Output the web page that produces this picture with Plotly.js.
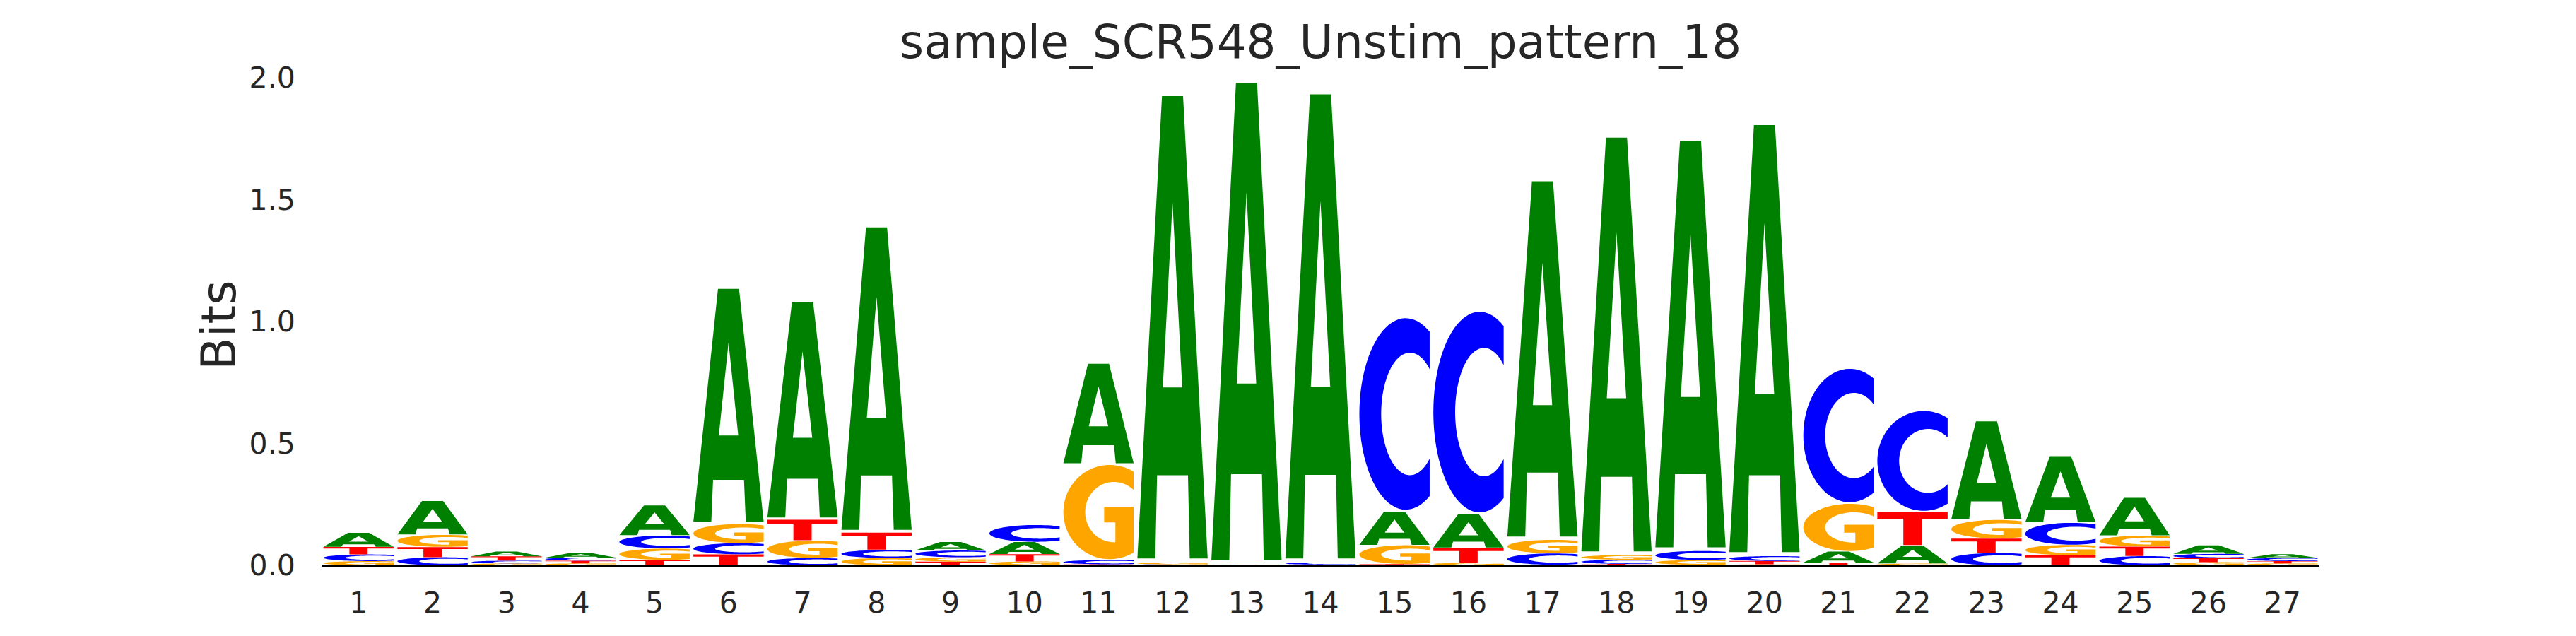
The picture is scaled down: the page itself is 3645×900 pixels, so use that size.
<!DOCTYPE html>
<html>
<head>
<meta charset="utf-8">
<script src="https://cdn.plot.ly/plotly-3.0.1.min.js"></script>
<style>html,body{margin:0;padding:0;background:#ffffff;}</style>
</head>
<body>
<div id="chart" style="width:3645px;height:900px;"></div>
<script>
// ---- data: information (bits) per base at each position ----
const positions = [1,2,3,4,5,6,7,8,9,10,11,12,13,14,15,16,17,18,19,20,21,22,23,24,25,26,27];
const tickLabels = positions.map(String);
const bitsA = [0.0583,0.1394,0.0193,0.0189,0.124,0.973,0.901,1.263,0.035,0.050,0.4155,1.931,1.995,1.938,0.138,0.138,1.484,1.728,1.697,1.784,0.046,0.075,0.407,0.275,0.156,0.0355,0.0156];
const bitsC = [0.0275,0.0333,0.0116,0.0125,0.0535,0.046,0.030,0.0335,0.028,0.070,0.0174,0.003,0.001,0.008,0.800,0.838,0.047,0.017,0.037,0.020,0.557,0.417,0.051,0.091,0.038,0.0175,0.0126];
const bitsG = [0.0174,0.0501,0.0077,0.0082,0.0468,0.079,0.072,0.030,0.018,0.016,0.3936,0.007,0.001,0.002,0.078,0.0104,0.056,0.019,0.020,0.004,0.197,0.007,0.077,0.043,0.045,0.013,0.008];
const bitsT = [0.0304,0.042,0.0178,0.0111,0.0222,0.045,0.086,0.071,0.015,0.030,0.0043,0.001,0.001,0.001,0.005,0.0612,0.002,0.006,0.002,0.014,0.011,0.138,0.059,0.041,0.039,0.0165,0.0096];
const bases = ['A','C','G','T'];
const baseColors = {A:'#008000', C:'#0000ff', G:'#ffa500', T:'#ff0000'};
const yTicks = [0, 0.5, 1.0, 1.5, 2.0];
const titleText = 'sample_SCR548_Unstim_pattern_18';
const yTitleText = 'Bits';

// ---- glyph outlines in a unit box ----
function ellArc(cx, cy, rx, ry, a0, a1, n) {
  const pts = [];
  for (let i = 0; i <= n; i++) {
    const t = (a0 + (a1 - a0) * i / n) * Math.PI / 180;
    pts.push([Math.min(1, cx + rx * Math.cos(t)), cy + ry * Math.sin(t)]);
  }
  return pts;
}
const OCX = 0.66, ORX = 0.66, OCY = 0.5, ORY = 0.5;
const ICX = 0.72, IRX = 0.41, ICY = 0.5, IRY = 0.32;
const oA = Math.acos((1 - OCX) / ORX) * 180 / Math.PI;
const iA = Math.acos((1 - ICX) / IRX) * 180 / Math.PI;
function glyph(b) {
  if (b === 'A') {
    return [
      [[0,0],[0.35,1],[0.65,1],[1,0],[0.745,0],[0.72,0.18],[0.28,0.18],[0.255,0]],
      [[0.362,0.37],[0.5,0.77],[0.638,0.37]]
    ];
  }
  if (b === 'T') {
    return [[[0,1],[1,1],[1,0.8],[0.63,0.8],[0.63,0],[0.37,0],[0.37,0.8],[0,0.8]]];
  }
  if (b === 'C') {
    const outer = ellArc(OCX, OCY, ORX, ORY, oA, 360 - oA, 60);
    const inner = ellArc(ICX, ICY, IRX, IRY, 360 - iA, iA, 60);
    return [outer.concat(inner)];
  }
  // G
  const outer = ellArc(OCX, OCY, ORX, ORY, oA, 360 - oA, 60);
  const gA = 360 - Math.acos((0.74 - ICX) / IRX) * 180 / Math.PI;
  const inner = ellArc(ICX, ICY, IRX, IRY, gA, iA, 60);
  const bar = [[1,0.556],[0.58,0.556],[0.58,0.39],[0.74,0.39]];
  return [outer.concat(bar, inner)];
}

const letterWidth = 0.95;
const vpad = 0.018;
const shapes = [];
const series = {A: bitsA, C: bitsC, G: bitsG, T: bitsT};
positions.forEach((p, i) => {
  const stack = bases.map(b => ({b: b, v: series[b][i]})).sort((u, w) => u.v - w.v);
  let y0 = 0;
  stack.forEach(s => {
    const h = s.v;
    const yb = y0 + h * vpad / 2;
    const hh = h * (1 - vpad);
    const x0 = p - letterWidth / 2;
    const d = glyph(s.b).map(poly => 'M' + poly.map(pt =>
      (x0 + pt[0] * letterWidth).toFixed(5) + ',' + (yb + pt[1] * hh).toFixed(6)).join('L') + 'Z').join(' ');
    shapes.push({type: 'path', xref: 'x', yref: 'y', path: d, fillcolor: baseColors[s.b],
      fillrule: 'evenodd', line: {width: 0}, layer: 'above'});
    y0 += h;
  });
});

const fontFam = 'DejaVu Sans, sans-serif';
const txtColor = '#262626';
const data = [{x: positions, y: positions.map(() => 0), type: 'scatter', mode: 'markers',
  marker: {opacity: 0}, hoverinfo: 'skip', showlegend: false}];
const layout = {
  width: 3645, height: 900,
  margin: {l: 455, r: 363, t: 110, b: 100, pad: 0},
  paper_bgcolor: '#ffffff', plot_bgcolor: '#ffffff',
  showlegend: false,
  title: {text: titleText, x: 0.5, xref: 'paper', xanchor: 'center',
    y: 0.935, yref: 'container', yanchor: 'middle',
    font: {family: fontFam, size: 66, color: txtColor}},
  xaxis: {range: [0.5, 27.5], tickvals: positions, ticktext: tickLabels,
    showgrid: false, zeroline: false, showline: true, linecolor: '#000000', linewidth: 2,
    ticks: 'outside', ticklen: 16, tickcolor: 'rgba(0,0,0,0)',
    tickfont: {family: fontFam, size: 41, color: txtColor}, fixedrange: true},
  yaxis: {range: [0, 2.0], tickvals: yTicks, ticktext: yTicks.map(v => v.toFixed(1)),
    showgrid: false, zeroline: false, showline: false,
    ticks: 'outside', ticklen: 28, tickcolor: 'rgba(0,0,0,0)',
    tickfont: {family: fontFam, size: 41, color: txtColor},
    fixedrange: true},
  annotations: [{text: yTitleText, xref: 'paper', yref: 'paper', x: -0.0513, y: 0.4928,
    xanchor: 'center', yanchor: 'middle', textangle: -90, showarrow: false,
    font: {family: fontFam, size: 68, color: txtColor}}],
  shapes: shapes
};
Plotly.newPlot('chart', data, layout, {displayModeBar: false, staticPlot: true});
</script>
</body>
</html>
